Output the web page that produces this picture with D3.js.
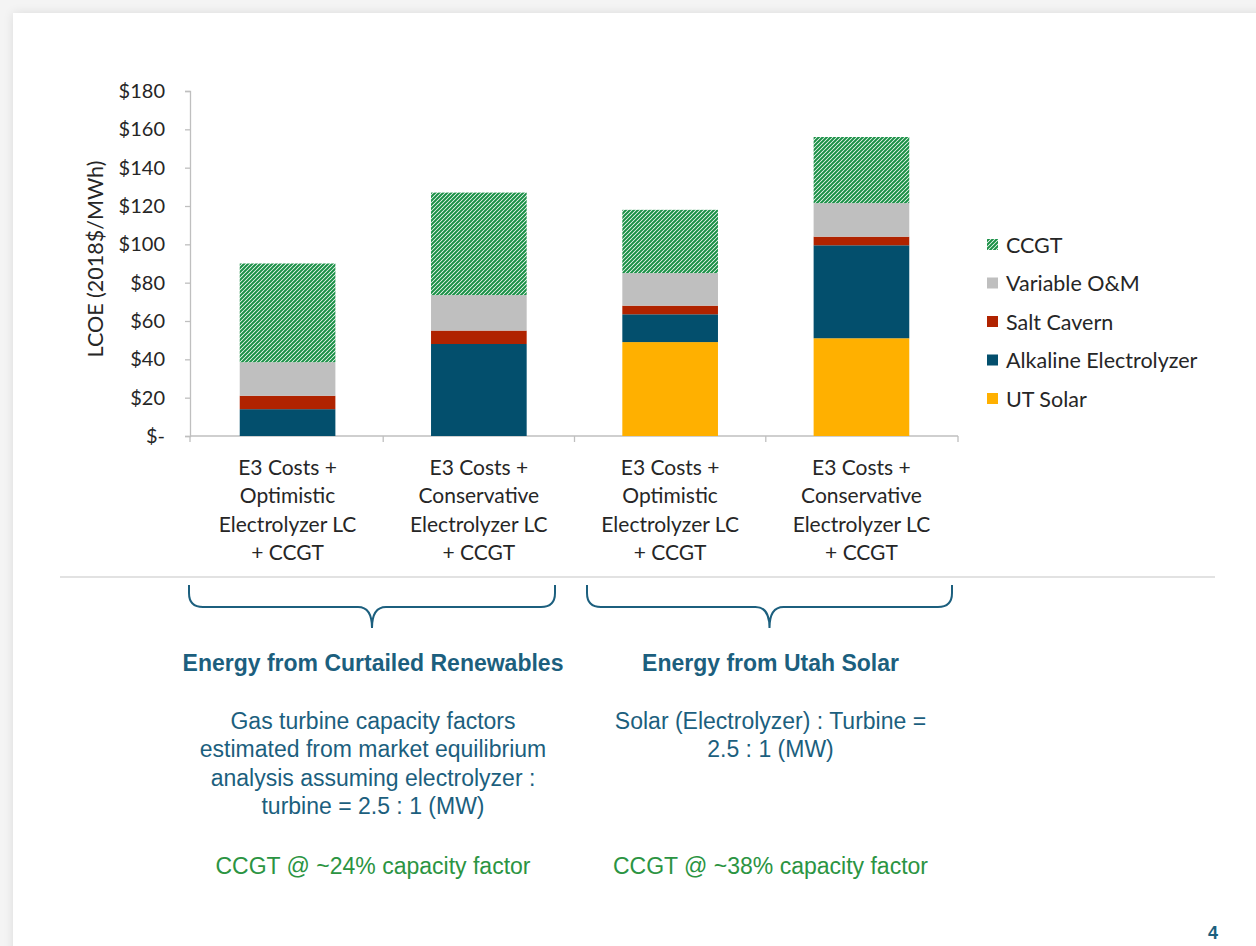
<!DOCTYPE html>
<html>
<head>
<meta charset="utf-8">
<script src="https://cdn.jsdelivr.net/npm/d3@7"></script>
<style>
  html, body { margin: 0; padding: 0; width: 1256px; height: 946px; overflow: hidden; background: #f4f4f4; }
  #slide { position: absolute; left: 13px; top: 13px; width: 1300px; height: 1000px; background: #fff; box-shadow: 0 0 10px rgba(0,0,0,0.10); }
  svg { position: absolute; left: 0; top: 0; }
</style>
</head>
<body>
<div id="slide"></div>
<svg id="chart" width="1256" height="946"></svg>
<script>
// ---- data ----
const categoryIds = ["c1", "c2", "c3", "c4"];
const categoryLines = [
  ["E3 Costs +", "Optimistic", "Electrolyzer LC", "+ CCGT"],
  ["E3 Costs +", "Conservative", "Electrolyzer LC", "+ CCGT"],
  ["E3 Costs +", "Optimistic", "Electrolyzer LC", "+ CCGT"],
  ["E3 Costs +", "Conservative", "Electrolyzer LC", "+ CCGT"]
];
const seriesNames = ["UT Solar", "Alkaline Electrolyzer", "Salt Cavern", "Variable O&M", "CCGT"];
const utSolar    = [0, 0, 49, 51];
const alkaline   = [14, 48, 14.5, 48.5];
const saltCavern = [7, 7, 4.5, 4.5];
const variableOM = [17.5, 18.5, 17, 17.5];
const ccgt       = [51.5, 53.5, 33, 34.5];
const yTicks = [0, 20, 40, 60, 80, 100, 120, 140, 160, 180];
const legendOrder = ["CCGT", "Variable O&M", "Salt Cavern", "Alkaline Electrolyzer", "UT Solar"];

const groupLabels = ["Energy from Curtailed Renewables", "Energy from Utah Solar"];
const groupNotes = [
  ["Gas turbine capacity factors", "estimated from market equilibrium", "analysis assuming electrolyzer :", "turbine = 2.5 : 1 (MW)"],
  ["Solar (Electrolyzer) : Turbine =", "2.5 : 1 (MW)"]
];
const groupCF = ["CCGT @ ~24% capacity factor", "CCGT @ ~38% capacity factor"];
const pageNumber = "4";

// ---- styles ----
const colors = {
  "UT Solar": "#ffb000",
  "Alkaline Electrolyzer": "#034f6d",
  "Salt Cavern": "#b02300",
  "Variable O&M": "#bfbfbf",
  "CCGT": "url(#hatch)"
};
const blue = "#1c5f7e";
const green = "#2b9442";
const labelFont = "Lato, 'Open Sans', sans-serif";
const textFont = "'Liberation Sans', Arial, sans-serif";

const svg = d3.select("#chart");
const defs = svg.append("defs");
const pat = defs.append("pattern").attr("id", "hatch")
  .attr("patternUnits", "userSpaceOnUse").attr("width", 4).attr("height", 4);
pat.append("rect").attr("width", 4).attr("height", 4).attr("fill", "#ffffff");
pat.append("path").attr("d", "M-1,1 l2,-2 M0,4 l4,-4 M3,5 l2,-2")
  .attr("stroke", "#1a9046").attr("stroke-width", 2);

// ---- scales ----
const x = d3.scaleBand().domain(categoryIds).range([190, 959]).paddingInner(0.5).paddingOuter(0.26);
const y = d3.scaleLinear().domain([0, 180]).range([436, 91]);

// stacked data
const rows = categoryIds.map((id, i) => ({
  id,
  "UT Solar": utSolar[i],
  "Alkaline Electrolyzer": alkaline[i],
  "Salt Cavern": saltCavern[i],
  "Variable O&M": variableOM[i],
  "CCGT": ccgt[i]
}));
const stacked = d3.stack().keys(seriesNames)(rows);

// ---- axes ----
const yAxis = d3.axisLeft(y).tickValues(yTicks).tickSize(5).tickPadding(20)
  .tickFormat(d => d === 0 ? "$-" : "$" + d);
const gy = svg.append("g").attr("transform", "translate(190,0)").call(yAxis);
gy.select(".domain").attr("stroke", "#bfbfbf").attr("stroke-width", 1.3);
gy.selectAll(".tick line").attr("stroke", "#bfbfbf").attr("stroke-width", 1.3);
gy.selectAll(".tick text").attr("font-family", labelFont).attr("font-size", 20).attr("fill", "#262626");

// x axis baseline with category boundary ticks
const gx = svg.append("g");
gx.append("line").attr("x1", 190).attr("x2", 958).attr("y1", y(0)).attr("y2", y(0))
  .attr("stroke", "#bfbfbf").attr("stroke-width", 1.3);
const half = (x.step() - x.bandwidth()) / 2;
gx.selectAll("line.b").data([190, ...categoryIds.slice(1).map(id => x(id) - half), 958])
  .join("line").attr("class", "b")
  .attr("x1", d => d).attr("x2", d => d).attr("y1", y(0)).attr("y2", y(0) + 6)
  .attr("stroke", "#bfbfbf").attr("stroke-width", 1.3);

// category labels
categoryIds.forEach((id, i) => {
  const t = svg.append("text").attr("text-anchor", "middle")
    .attr("font-family", labelFont).attr("font-size", 21).attr("fill", "#262626");
  categoryLines[i].forEach((ln, j) => {
    t.append("tspan").attr("x", x(id) + x.bandwidth() / 2).attr("y", 474.5 + j * 28.6).text(ln);
  });
});

// y-axis title
svg.append("text").attr("transform", "translate(103,259) rotate(-90)")
  .attr("text-anchor", "middle").attr("font-family", labelFont).attr("font-size", 21.5)
  .attr("fill", "#262626").text("LCOE (2018$/MWh)");

// ---- bars ----
svg.append("g").selectAll("g").data(stacked).join("g")
  .attr("fill", d => colors[d.key])
  .selectAll("rect").data(d => d).join("rect")
  .attr("x", d => x(d.data.id))
  .attr("width", x.bandwidth())
  .attr("y", d => y(d[1]))
  .attr("height", d => Math.max(0, y(d[0]) - y(d[1])));

// ---- legend ----
const lg = svg.append("g").attr("transform", "translate(987,245)");
legendOrder.forEach((name, i) => {
  const g = lg.append("g").attr("transform", `translate(0,${i * 38.5})`);
  g.append("rect").attr("x", 0).attr("y", -6).attr("width", 11).attr("height", 11).attr("fill", colors[name]);
  g.append("text").attr("x", 19).attr("y", 7.5).attr("font-family", labelFont).attr("font-size", 21.5)
    .attr("fill", "#262626").text(name);
});

// ---- separator ----
svg.append("line").attr("x1", 60).attr("x2", 1215).attr("y1", 577).attr("y2", 577)
  .attr("stroke", "#d9d9d9").attr("stroke-width", 1.3);

// ---- braces ----
function brace(x0, x1, top, mid, tipY, r) {
  const xm = (x0 + x1) / 2;
  return `M${x0},${top} L${x0},${mid - r} Q${x0},${mid} ${x0 + r},${mid} L${xm - r},${mid} Q${xm},${mid} ${xm},${tipY}` +
         ` Q${xm},${mid} ${xm + r},${mid} L${x1 - r},${mid} Q${x1},${mid} ${x1},${mid - r} L${x1},${top}`;
}
const braceSpans = [[189, 555], [587, 952]];
braceSpans.forEach(([a, b]) => {
  svg.append("path").attr("d", brace(a, b, 585, 607, 628, 14))
    .attr("fill", "none").attr("stroke", blue).attr("stroke-width", 2);
});

// ---- group texts ----
braceSpans.forEach(([a, b], i) => {
  const cx = (a + b) / 2 + 1;
  svg.append("text").attr("x", cx).attr("y", 671).attr("text-anchor", "middle")
    .attr("font-family", textFont).attr("font-weight", "bold").attr("font-size", 23)
    .attr("fill", blue).text(groupLabels[i]);
  const t = svg.append("text").attr("text-anchor", "middle")
    .attr("font-family", textFont).attr("font-size", 23).attr("fill", blue);
  groupNotes[i].forEach((ln, j) => {
    t.append("tspan").attr("x", cx).attr("y", 728.5 + j * 28.5).text(ln);
  });
  svg.append("text").attr("x", cx).attr("y", 873.5).attr("text-anchor", "middle")
    .attr("font-family", textFont).attr("font-size", 23).attr("fill", green).text(groupCF[i]);
});

// page number
svg.append("text").attr("x", 1213).attr("y", 939).attr("text-anchor", "middle")
  .attr("font-family", textFont).attr("font-weight", "bold").attr("font-size", 18)
  .attr("fill", blue).text(pageNumber);
</script>
</body>
</html>
